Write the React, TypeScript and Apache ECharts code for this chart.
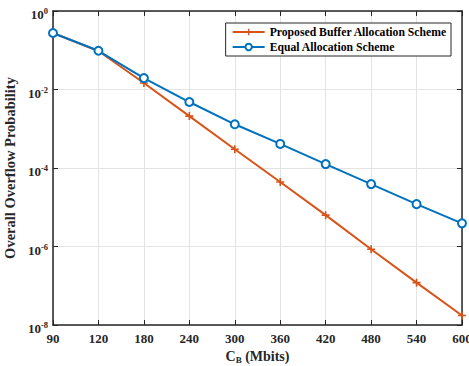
import React, { useEffect, useRef } from "react";
import * as echarts from "echarts";

const categories = ["90", "120", "180", "240", "300", "360", "420", "480", "540", "600"];
const proposedValues = [0.275, 0.096, 0.0146, 0.0021, 3.0e-4, 4.4e-5, 6.3e-6, 8.5e-7, 1.2e-7, 1.75e-8];
const equalValues = [0.275, 0.097, 0.0195, 0.0048, 1.3e-3, 4.1e-4, 1.26e-4, 3.9e-5, 1.2e-5, 3.9e-6];
const yMin = 1e-8;
const yMax = 1;

const FONT = "'Liberation Serif', 'Times New Roman', serif";
const ORANGE = "#D95319";
const BLUE = "#0072BD";
const AXIS = "#262626";
const GRID = "#E3E3E3";

const plusPath = "path://M4,0 H6 V4 H10 V6 H6 V10 H4 V6 H0 V4 H4 Z";

export default function App() {
  const ref = useRef<HTMLDivElement>(null);
  useEffect(() => {
    if (!ref.current) return;
    const chart = echarts.init(ref.current, null, { renderer: "svg" });
    const supFormatter = (v: number) => {
      const e = Math.round(Math.log10(v));
      return `{b|10}{s|${e}}`;
    };
    const supRich = {
      b: { fontSize: 13, fontWeight: "bold", fontFamily: FONT, color: AXIS, lineHeight: 14, verticalAlign: "bottom" },
      s: { fontSize: 8.5, fontWeight: "bold", fontFamily: FONT, color: AXIS, lineHeight: 20, verticalAlign: "middle" },
    };
    chart.setOption({
      animation: false,
      backgroundColor: "#ffffff",
      grid: { left: 53, right: 7, top: 11, bottom: 41, containLabel: false, outerBoundsMode: "none" },
      legend: {
        right: 18,
        top: 23,
        orient: "vertical",
        backgroundColor: "#ffffff",
        borderColor: AXIS,
        borderWidth: 1,
        borderRadius: 0,
        padding: [3, 4, 3, 6],
        itemGap: 3,
        itemWidth: 32,
        itemHeight: 8,
        textStyle: { fontFamily: FONT, fontWeight: "bold", fontSize: 11.7, color: "#000" },
        data: ["Proposed Buffer Allocation Scheme", "Equal Allocation Scheme"],
      },
      xAxis: [
        {
          type: "category",
          data: categories,
          boundaryGap: false,
          position: "bottom",
          name: "{a|C}{s|B}{a| (Mbits)}",
          nameLocation: "middle",
          nameGap: 20,
          nameTextStyle: {
            rich: {
              a: { fontSize: 14, fontWeight: "bold", fontFamily: FONT, color: AXIS },
              s: { fontSize: 9, fontWeight: "bold", fontFamily: FONT, color: AXIS, padding: [7, 0, 0, 0] },
            },
          },
          axisLine: { lineStyle: { color: AXIS, width: 1.5 } },
          axisTick: { inside: true, length: 5, lineStyle: { color: AXIS } },
          axisLabel: { margin: 7, fontSize: 13, fontWeight: "bold", fontFamily: FONT, color: AXIS },
          splitLine: { show: true, lineStyle: { color: GRID, width: 1 } },
        },
        {
          type: "category",
          data: categories,
          boundaryGap: false,
          position: "top",
          axisLine: { lineStyle: { color: AXIS, width: 1.5 } },
          axisTick: { inside: true, length: 5, lineStyle: { color: AXIS } },
          axisLabel: { show: false },
          splitLine: { show: false },
        },
      ],
      yAxis: [
        {
          type: "log",
          logBase: 10,
          min: yMin,
          max: yMax,
          interval: 2,
          position: "left",
          name: "Overall Overflow Probability",
          nameLocation: "middle",
          nameRotate: 90,
          nameGap: 28,
          nameTextStyle: { fontSize: 14.5, fontWeight: "bold", fontFamily: FONT, color: AXIS },
          axisLine: { show: true, lineStyle: { color: AXIS, width: 1.5 } },
          axisTick: { show: true, inside: true, length: 5, lineStyle: { color: AXIS } },
          minorTick: { show: false },
          axisLabel: { margin: 5, formatter: supFormatter, rich: supRich },
          splitLine: { show: true, lineStyle: { color: GRID, width: 1 } },
        },
        {
          type: "log",
          logBase: 10,
          min: yMin,
          max: yMax,
          interval: 2,
          position: "right",
          axisLine: { show: true, lineStyle: { color: AXIS, width: 1.5 } },
          axisTick: { show: true, inside: true, length: 5, lineStyle: { color: AXIS } },
          axisLabel: { show: false },
          splitLine: { show: false },
        },
      ],
      series: [
        {
          name: "Proposed Buffer Allocation Scheme",
          type: "line",
          data: proposedValues,
          xAxisIndex: 0,
          yAxisIndex: 0,
          symbol: plusPath,
          symbolSize: 8,
          showAllSymbol: true,
          color: ORANGE,
          lineStyle: { color: ORANGE, width: 2 },
          itemStyle: { color: ORANGE },
        },
        {
          name: "Equal Allocation Scheme",
          type: "line",
          data: equalValues,
          xAxisIndex: 0,
          yAxisIndex: 0,
          symbol: "emptyCircle",
          symbolSize: 8,
          showAllSymbol: true,
          color: BLUE,
          lineStyle: { color: BLUE, width: 2 },
          itemStyle: { color: BLUE, borderWidth: 2 },
        },
      ],
    });
    return () => chart.dispose();
  }, []);
  return <div ref={ref} style={{ width: 469, height: 366, position: "absolute", left: 0, top: 0 }} />;
}
